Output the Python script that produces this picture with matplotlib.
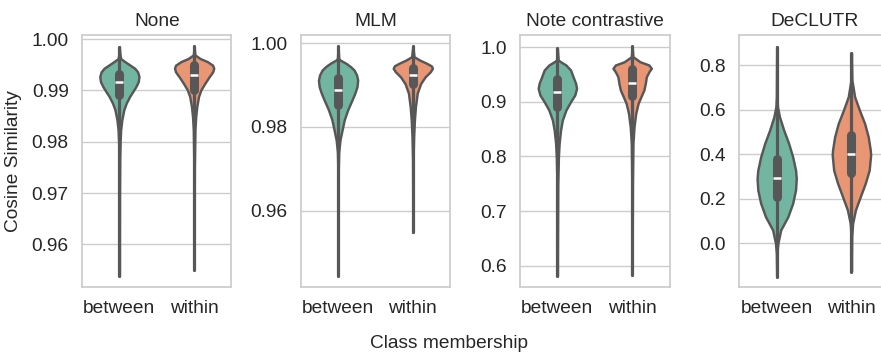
import matplotlib.pyplot as plt
import seaborn as sns

sns.set_theme(style="whitegrid", font_scale=1.25)
plt.rcParams["font.family"] = ["Liberation Sans", "DejaVu Sans"]

panels = ["None", "MLM", "Note contrastive", "DeCLUTR"]
groups = ["between", "within"]

# violin outlines: y levels and half widths (category units)
none_between_y = [0.9538, 0.9700, 0.9770, 0.9803, 0.9823, 0.9842, 0.9862, 0.9875, 0.9888, 0.9897,
                  0.9907, 0.9917, 0.9927, 0.9936, 0.9943, 0.9949, 0.9956, 0.9962, 0.9972, 0.9985]
none_between_w = [0.0, 0.002, 0.005, 0.010, 0.016, 0.030, 0.055, 0.085, 0.128, 0.165,
                  0.205, 0.236, 0.245, 0.228, 0.192, 0.135, 0.068, 0.015, 0.006, 0.0]
none_within_y = [0.9550, 0.9750, 0.9823, 0.9849, 0.9868, 0.9888, 0.9901, 0.9914, 0.9927, 0.9936,
                 0.9943, 0.9949, 0.9956, 0.9962, 0.9969, 0.9986]
none_within_w = [0.0, 0.003, 0.010, 0.020, 0.033, 0.055, 0.085, 0.135, 0.190, 0.232,
                 0.245, 0.232, 0.165, 0.075, 0.010, 0.0]

mlm_between_y = [0.9444, 0.9700, 0.9740, 0.9769, 0.9793, 0.9817, 0.9841, 0.9865, 0.9881, 0.9896,
                 0.9912, 0.9924, 0.9936, 0.9944, 0.9952, 0.9960, 0.9964, 0.9993]
mlm_between_w = [0.0, 0.003, 0.008, 0.024, 0.050, 0.077, 0.120, 0.175, 0.210, 0.236,
                 0.245, 0.232, 0.200, 0.157, 0.100, 0.025, 0.008, 0.0]
mlm_within_y = [0.9548, 0.9720, 0.9777, 0.9817, 0.9849, 0.9881, 0.9904, 0.9920, 0.9932, 0.9940,
                0.9946, 0.9952, 0.9960, 0.9968, 0.9993]
mlm_within_w = [0.0, 0.003, 0.010, 0.020, 0.033, 0.055, 0.098, 0.155, 0.218, 0.245,
                0.232, 0.175, 0.085, 0.015, 0.0]

nc_between_y = [0.581, 0.750, 0.7996, 0.8242, 0.8485, 0.8668, 0.8852, 0.9004, 0.9126, 0.9249,
                0.9341, 0.9462, 0.9584, 0.9676, 0.9736, 0.9767, 0.9982]
nc_between_w = [0.0, 0.005, 0.013, 0.022, 0.040, 0.062, 0.107, 0.165, 0.218, 0.240,
                0.228, 0.196, 0.165, 0.107, 0.040, 0.010, 0.0]
nc_within_y = [0.5824, 0.750, 0.8242, 0.8546, 0.8791, 0.8974, 0.9095, 0.9218, 0.9341, 0.9462,
               0.9553, 0.9615, 0.9676, 0.9736, 0.9828, 1.0024]
nc_within_w = [0.0, 0.004, 0.010, 0.024, 0.045, 0.075, 0.110, 0.147, 0.165, 0.178,
               0.210, 0.240, 0.210, 0.098, 0.010, 0.0]

dc_between_y = [-0.150, -0.045, 0.000, 0.060, 0.120, 0.180, 0.240, 0.292, 0.329, 0.389,
                0.449, 0.509, 0.569, 0.614, 0.659, 0.884]
dc_between_w = [0.0, 0.004, 0.015, 0.050, 0.140, 0.200, 0.236, 0.245, 0.236, 0.200,
                0.150, 0.088, 0.035, 0.010, 0.004, 0.0]
dc_within_y = [-0.128, 0.030, 0.090, 0.150, 0.209, 0.270, 0.329, 0.397, 0.419, 0.479,
               0.539, 0.599, 0.659, 0.734, 0.857]
dc_within_w = [0.0, 0.004, 0.015, 0.050, 0.110, 0.173, 0.222, 0.240, 0.236, 0.210,
               0.165, 0.100, 0.040, 0.006, 0.0]

# inner box stats per panel: [between, within]
q1 = [[0.9891, 0.9900], [0.9853, 0.9903], [0.8902, 0.9117], [0.207, 0.315]]
medians = [[0.99156, 0.99299], [0.98884, 0.99242], [0.9187, 0.934], [0.292, 0.400]]
q3 = [[0.9932, 0.9949], [0.9918, 0.9941], [0.9424, 0.9594], [0.377, 0.485]]

outlines = [
    [(none_between_y, none_between_w), (none_within_y, none_within_w)],
    [(mlm_between_y, mlm_between_w), (mlm_within_y, mlm_within_w)],
    [(nc_between_y, nc_between_w), (nc_within_y, nc_within_w)],
    [(dc_between_y, dc_between_w), (dc_within_y, dc_within_w)],
]

ylims = [(0.95163, 1.00084), (0.9417, 1.00205), (0.5604, 1.0231), (-0.1978, 0.9381)]
yticks = [[0.96, 0.97, 0.98, 0.99, 1.00], [0.96, 0.98, 1.00],
          [0.6, 0.7, 0.8, 0.9, 1.0], [0.0, 0.2, 0.4, 0.6, 0.8]]
ytick_fmt = ["{:.2f}", "{:.2f}", "{:.1f}", "{:.1f}"]

colors = [sns.desaturate(c, 0.75) for c in sns.color_palette("Set2", 2)]
line_color = "#575757"
width_scale = 1.07

fig = plt.figure(figsize=(8.81, 3.52), dpi=100)
lefts = [82, 300.7, 520, 739.3]

for k, name in enumerate(panels):
    ax = fig.add_axes([lefts[k] / 881, 64.7 / 352, 149.5 / 881, 252.6 / 352])
    for i in range(2):
        ys, ws = outlines[k][i]
        ax.fill_betweenx(ys, [i - w * width_scale for w in ws], [i + w * width_scale for w in ws],
                         facecolor=colors[i], edgecolor=line_color, linewidth=1.75, zorder=2)
        ax.plot([i, i], [ys[0], ys[-1]], color=line_color, lw=2.3,
                solid_capstyle="round", zorder=3)
        ax.plot([i, i], [q1[k][i], q3[k][i]], color=line_color, lw=6.5,
                solid_capstyle="round", zorder=3)
        ax.plot([i], [medians[k][i]], marker="_", color="white",
                markersize=5.5, mew=1.8, zorder=4)
    ax.set_xlim(-0.5, 1.5)
    ax.set_ylim(*ylims[k])
    ax.set_xticks([0, 1])
    ax.set_xticklabels(groups)
    ax.set_yticks(yticks[k])
    ax.set_yticklabels([ytick_fmt[k].format(t) for t in yticks[k]])
    ax.xaxis.grid(False)
    ax.set_title(name, fontsize=13.75)

fig.text(14 / 881, 1 - 161 / 352, "Cosine Similarity", rotation=90,
         ha="center", va="center", fontsize=13.75)
fig.text(449 / 881, 4 / 352, "Class membership", ha="center", va="baseline", fontsize=13.75)

fig.savefig("out.png", dpi=100)
